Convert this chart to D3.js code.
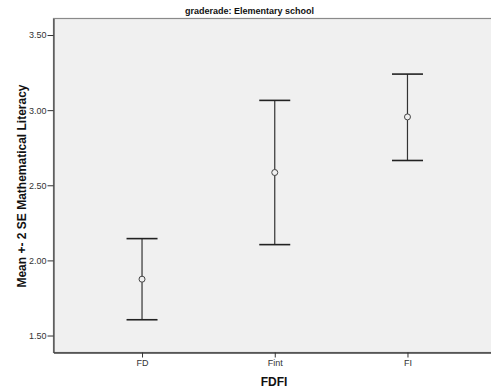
<!DOCTYPE html>
<html>
<head>
<meta charset="utf-8">
<script src="https://cdn.jsdelivr.net/npm/d3@7"></script>
<style>
  body { margin: 0; background: #fff; }
  svg { display: block; font-family: Arial, "Liberation Sans", sans-serif; }
</style>
</head>
<body>
<div id="chart"></div>
<script>
// data
const groups = ['FD', 'Fint', 'FI'];
const means = [1.875, 2.585, 2.955];
const upper = [2.145, 3.065, 3.24];
const lower = [1.605, 2.105, 2.665];
const yTicks = [1.5, 2.0, 2.5, 3.0, 3.5];

const width = 491, height = 389;
const margin = { top: 18.5, right: -5, bottom: 36.5, left: 53.5 };

const svg = d3.select('#chart').append('svg')
    .attr('width', width)
    .attr('height', height);

const x = d3.scalePoint()
    .domain(groups)
    .range([margin.left, width - margin.right])
    .padding(0.667);

const y = d3.scaleLinear()
    .domain([1.387, 3.61])
    .range([height - margin.bottom, margin.top]);

// plot background
svg.append('rect')
    .attr('x', margin.left)
    .attr('y', margin.top)
    .attr('width', width - margin.left - margin.right)
    .attr('height', height - margin.top - margin.bottom)
    .attr('fill', '#f0f0f0')
    .attr('stroke', '#8a8a8a')
    .attr('stroke-width', 1.2);

// y axis
const yAxis = svg.append('g')
    .attr('transform', `translate(${margin.left},0)`)
    .call(d3.axisLeft(y).tickValues(yTicks).tickFormat(d3.format('.2f'))
        .tickSize(6).tickSizeOuter(0).tickPadding(1));
yAxis.select('.domain').attr('stroke', '#444').attr('stroke-width', 1.2);
yAxis.selectAll('.tick line').attr('stroke', '#333');
yAxis.selectAll('.tick text').attr('font-size', 9).attr('fill', '#333').attr('font-family', 'Arial, "Liberation Sans", sans-serif');

// x axis
const xAxis = svg.append('g')
    .attr('transform', `translate(0,${height - margin.bottom})`)
    .call(d3.axisBottom(x).tickSize(5).tickSizeOuter(0).tickPadding(2));
xAxis.select('.domain').attr('stroke', '#444').attr('stroke-width', 1.5);
xAxis.selectAll('.tick line').attr('stroke', '#333');
xAxis.selectAll('.tick text').attr('font-size', 9).attr('fill', '#333').attr('font-family', 'Arial, "Liberation Sans", sans-serif');

// error bars
const capHalf = 15.5;
const bars = svg.append('g').selectAll('g')
    .data(groups.map((g, i) => ({ g, m: means[i], hi: upper[i], lo: lower[i] })))
    .join('g');

bars.append('line')
    .attr('x1', d => x(d.g)).attr('x2', d => x(d.g))
    .attr('y1', d => y(d.hi)).attr('y2', d => y(d.lo))
    .attr('stroke', '#333').attr('stroke-width', 1.2);

bars.selectAll('.cap')
    .data(d => [{ g: d.g, v: d.hi }, { g: d.g, v: d.lo }])
    .join('line')
    .attr('class', 'cap')
    .attr('x1', d => x(d.g) - capHalf).attr('x2', d => x(d.g) + capHalf)
    .attr('y1', d => y(d.v)).attr('y2', d => y(d.v))
    .attr('stroke', '#222').attr('stroke-width', 1.6);

bars.append('circle')
    .attr('cx', d => x(d.g))
    .attr('cy', d => y(d.m))
    .attr('r', 3)
    .attr('fill', '#f0f0f0')
    .attr('stroke', '#444')
    .attr('stroke-width', 1);

// titles
svg.append('text')
    .attr('x', 249.5).attr('y', 14)
    .attr('text-anchor', 'middle')
    .attr('font-size', 9).attr('font-weight', 'bold').attr('fill', '#111')
    .text('graderade: Elementary school');

svg.append('text')
    .attr('transform', 'translate(26,186) rotate(-90)')
    .attr('text-anchor', 'middle')
    .attr('font-size', 12).attr('font-weight', 'bold').attr('fill', '#111')
    .text('Mean +- 2 SE Mathematical Literacy');

svg.append('text')
    .attr('x', 274).attr('y', 385.5)
    .attr('text-anchor', 'middle')
    .attr('font-size', 12).attr('font-weight', 'bold').attr('fill', '#111')
    .text('FDFI');
</script>
</body>
</html>
